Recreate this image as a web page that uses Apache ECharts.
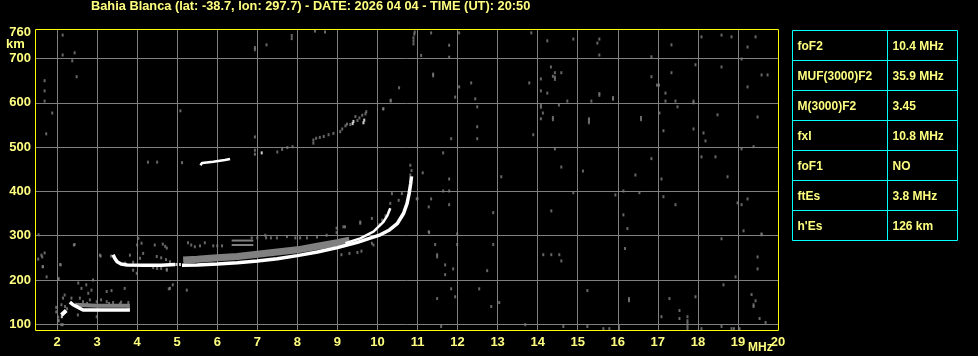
<!DOCTYPE html>
<html>
<head>
<meta charset="utf-8">
<script src="https://cdn.jsdelivr.net/npm/echarts@6/dist/echarts.min.js"></script>
<style>
html,body{margin:0;padding:0;background:#000;}
#chart{width:978px;height:356px;}
</style>
</head>
<body>
<div id="chart"></div>
<script>
// ---- Axis / labels ----
const titleText = 'Bahia Blanca (lat: -38.7, lon: 297.7) - DATE: 2026 04 04 - TIME (UT): 20:50';
const freqTicks = [2,3,4,5,6,7,8,9,10,11,12,13,14,15,16,17,18,19];
const freqLabels = [2,3,4,5,6,7,8,9,10,11,12,13,14,15,16,17,18,19,20];
const heightTicks = [100,200,300,400,500,600,700];
const heightLabels = [100,200,300,400,500,600,700,760];

// ---- Table ----
const paramNames = ['foF2','MUF(3000)F2','M(3000)F2','fxI','foF1','ftEs',"h'Es"];
const paramValues = ['10.4 MHz','35.9 MHz','3.45','10.8 MHz','NO','3.8 MHz','126 km'];

// ---- Echo traces (frequency MHz, virtual height km) ----
const esBlob = [[2.11,121],[2.17,126],[2.23,131]];
const esTrace = [[2.32,150],[2.40,144],[2.53,138],[2.65,132],[2.9,132],[3.3,132],[3.82,132]];
const fTraceLow = [[3.40,257],[3.44,249],[3.50,241],[3.60,236],[3.75,234],[4.20,233],[4.60,233],[4.95,235]];
const fTraceMain = [[5.12,233],[5.5,234],[6.0,236],[6.5,239],[7.0,243],[7.5,248],[8.0,255],[8.5,263],[9.0,273],[9.5,285],[9.8,294],[10.07,302],[10.3,313],[10.5,328],[10.65,350],[10.74,373],[10.79,395],[10.83,418],[10.85,434]];
const oTrace = [[9.2,283],[9.57,294],[9.9,309],[10.15,331],[10.25,346],[10.32,362]];
const hop2Trace = [[5.58,459],[5.62,464],[5.9,467],[6.19,471],[6.32,473]];
const whiteDots = [[4.98,235],[5.07,235],[7.11,487],[9.38,553],[9.40,558],[9.65,555],[9.67,561],[2.12,117]];

// gray spread echoes
const grayBandF = [[5.15,245],[5.5,247],[6.0,250],[6.5,253],[7.0,258],[7.5,263],[8.0,268],[8.5,276],[9.0,284],[9.3,290]];
const grayBandEs = [[2.45,144],[3.0,142],[3.82,142]];
const grayBars = [[[6.36,289],[6.9,289]],[[6.36,279],[6.9,279]]];
const grayDots = [
 // near Es
 [2.42,279],[3.07,256],[3.35,254],[1.61,256],[1.53,247],[1.65,230],[2.08,235],[1.74,207],[2.03,202],[2.53,193],[2.73,189],
 [2.86,177],[2.90,200],[2.78,170],[3.24,174],[3.36,176],[3.69,181],[2.61,181],[2.19,166],[2.15,159],[2.36,159],[2.11,144],
 [1.98,138],[1.98,128],[2.03,116],[2.03,108],[2.11,99],[2.57,159],[2.65,151],[2.82,155],[2.99,151],[3.24,151],[3.40,149],
 [3.57,146],[3.78,149],[3.78,138],[2.52,121],[2.99,117],[3.6,150],[3.1,155],[2.75,147],[2.2,140],[2.25,135],[3.3,147],
 // near F start
 [4.03,294],[4.00,279],[4.11,283],[4.64,281],[4.70,276],[4.74,272],[4.44,279],[3.82,256],[4.15,260],[4.07,249],
 [4.49,253],[4.6,250],[4.72,246],[4.82,241],[4.40,228],[4.5,226],[4.6,226],[4.74,224],[3.90,222],[3.99,215],[4.74,222],
 [4.82,181],[5.24,177],[3.09,254],[1.54,302],[1.63,252],[1.69,261],[1.64,230],[2.04,203],[2.09,234],[2.44,280],
 [2.14,99],[2.04,108],[4.89,189],[4.79,180],[3.7,238],[3.9,240],
 // dotted rows above F
 [5.27,284],[5.35,279],[5.44,275],[5.57,277],[5.69,284],[5.90,277],[6.0,277],[6.12,277],
 [6.86,295],[7.0,295],[7.22,295],[7.34,295],[7.49,295],[7.74,298],[7.95,295],[8.07,295],[8.24,295],[8.49,297],
 [8.73,301],[7.2,301],[8.98,317],[8.98,307],[9.57,328],[9.15,320],[9.9,279],[9.1,257],[9.3,260],[9.5,262],[9.6,265],
 // near cusp
 [9.98,315],[10.05,325],[10.12,335],[10.2,345],[9.86,339],[9.57,331],[10.32,373],[10.36,395],[10.53,380],[10.61,395],
 [10.82,459],[10.82,437],[10.85,447],[11.13,442],[11.0,384],[11.28,365],[11.28,309],[9.19,320],[9.86,283],
 // second hop
 [6.94,493],[6.94,484],[7.5,489],[7.62,495],[7.75,499],[7.88,501],
 [8.4,509],[8.4,516],[8.47,520],[8.56,522],[8.66,524],[8.78,528],[8.9,531],[9.07,535],[9.12,541],[9.2,548],[9.24,552],
 [9.32,551],[9.5,560],[9.55,566],[9.62,572],[9.7,575],[9.72,580],[9.45,569],
 [6.94,523],[4.27,466],[4.5,466],[5.12,465],[5.08,582],[10.15,587],[10.33,606],[10.98,383],
 // top-left
 [2.14,753],[2.14,708],[2.44,713],[2.38,695],[2.49,659],[1.69,650],[1.69,627],[1.69,604],[1.88,577],[1.73,530],
 [6.94,720],[6.94,725],[7.23,731],[7.86,745],[7.86,752],[8.44,762],[8.69,760],
 [10.9,733],[10.9,740],[10.9,747],[10.92,755],[10.93,760],[11.09,707],[10.54,634],[10.33,604],[10.14,586],
 // right half
 [11.34,758],[12.04,758],[11.79,730],[11.79,703],[13.84,758],[14.24,740],[14.89,744],[15.54,744],[15.49,735],[15.54,708],
 [16.84,704],[17.34,731],[18.09,749],[18.59,753],[18.84,749],[19.44,749],[19.24,726],[19.09,699],[11.39,665],[11.39,661],
 [12.04,636],[11.94,613],[12.34,645],[12.44,609],[12.49,591],[12.49,546],[12.49,519],[11.84,519],[13.79,645],[13.89,528],
 [14.33,681],[14.43,668],[14.59,668],[14.38,660],[14.43,653],[14.43,658],[14.08,654],[14.08,627],[14.24,622],[14.08,590],
 [14.08,595],[14.13,577],[14.08,564],[14.38,562],[14.38,567],[14.53,595],[14.74,604],[14.43,496],[14.59,455],[15.13,446],
 [15.34,604],[15.54,617],[15.54,621],[15.88,608],[15.88,612],[15.28,555],[15.28,560],[15.28,564],[16.58,562],[16.58,567],
 [16.84,659],[16.98,640],[17.03,640],[17.19,622],[17.19,604],[17.44,604],[17.49,591],[17.34,668],[17.94,686],[17.89,600],
 [17.89,604],[17.04,577],[17.14,537],[17.89,541],[18.14,532],[18.19,514],[18.49,573],[18.59,681],[19.24,636],[19.59,663],
 [19.74,663],[19.49,568],[11.64,487],[11.79,428],[11.64,401],[11.79,401],[11.34,383],[11.79,370],[13.09,433],[12.89,352],
 [14.34,356],[14.89,397],[15.94,392],[16.14,401],[16.14,347],[16.24,316],[16.44,437],[16.54,397],[16.84,474],[17.09,428],
 [17.14,388],[17.44,370],[18.09,478],[18.44,478],[18.74,433],[19.09,496],[19.39,501],[18.99,374],[19.09,370],[19.24,383],
 [19.14,311],[19.59,304],[11.99,304],
 [12.89,280],[12.74,221],[12.84,140],[13.04,149],[14.14,257],[14.34,257],[14.54,257],[14.59,243],[13.69,99],[14.64,95],
 [15.24,176],[15.24,95],[15.64,90],[15.79,90],[16.03,90],[16.03,95],[16.18,271],[16.28,153],[16.28,158],[17.09,117],
 [17.29,158],[17.54,131],[17.54,113],[17.74,117],[17.74,90],[17.74,96],[17.74,102],[17.74,108],[17.94,162],[18.09,90],
 [18.59,293],[18.64,189],[18.59,95],[18.84,90],[18.9,90],[19.04,90],[18.94,207],[19.59,302],[19.34,167],[19.44,153],
 [19.39,140],[19.39,144],[19.49,252],[19.49,225],[19.54,113],[19.69,104],
 [11.29,307],[11.44,280],[11.49,252],[11.49,257],[11.69,234],[11.69,212],[11.89,225],[11.84,180],[11.94,162],[11.49,158],
 [11.59,95],[12.54,180],[11.99,280]
];

const TXT = '#ffff80';
const FONT = 'Liberation Sans';

function traceLine(data, color, width, z) {
  return { type:'line', data:data, showSymbol:false, symbol:'none', lineStyle:{color:color, width:width, cap:'butt'},
           itemStyle:{color:color}, z:z, silent:true, animation:false, clip:true };
}

const series = [];
series.push(traceLine(grayBandF, '#808080', 7, 2));
series.push(traceLine(grayBandEs, '#808080', 4, 2));
grayBars.forEach(b => series.push(traceLine(b, '#808080', 2, 2)));
series.push({ type:'scatter', data:grayDots, symbol:'rect', symbolSize:[2,3], itemStyle:{color:'#808080'}, z:3, silent:true, animation:false });
series.push(traceLine(esBlob, '#ffffff', 4, 4));
series.push(traceLine(esTrace, '#ffffff', 3.5, 4));
series.push(traceLine(fTraceLow, '#ffffff', 3.5, 4));
series.push(traceLine(fTraceMain, '#ffffff', 3.5, 4));
series.push(traceLine(oTrace, '#ffffff', 2.5, 4));
series.push(traceLine(hop2Trace, '#ffffff', 2.5, 4));
series.push({ type:'scatter', data:whiteDots, symbol:'rect', symbolSize:[2,3], itemStyle:{color:'#ffffff'}, z:5, silent:true, animation:false });

// table graphics
const tbl = { left:792.5, top:30.5, right:957.5, rowH:30, split:887.5 };
const graphics = [];
graphics.push({ type:'rect', z:100, shape:{ x:35.5, y:29.5, width:743, height:301 }, style:{ fill:'none', stroke:'#ffff00', lineWidth:1 } });
graphics.push({ type:'text', left:91, top:0, style:{ text:titleText, fill:TXT, font:'bold 12.8px "'+FONT+'"' } });
graphics.push({ type:'text', left:6, top:38, style:{ text:'km', fill:TXT, font:'bold 13px "'+FONT+'"' } });
graphics.push({ type:'text', left:748, top:342, style:{ text:'MHz', fill:TXT, font:'bold 12px "'+FONT+'"' } });
const nRows = paramNames.length;
graphics.push({ type:'rect', shape:{ x:tbl.left, y:tbl.top, width:tbl.right-tbl.left, height:nRows*tbl.rowH }, style:{ fill:'none', stroke:'#00ffff', lineWidth:1 } });
for (let i = 1; i < nRows; i++) {
  graphics.push({ type:'line', shape:{ x1:tbl.left, y1:tbl.top+i*tbl.rowH, x2:tbl.right, y2:tbl.top+i*tbl.rowH }, style:{ stroke:'#00ffff', lineWidth:1 } });
}
graphics.push({ type:'line', shape:{ x1:tbl.split, y1:tbl.top, x2:tbl.split, y2:tbl.top+nRows*tbl.rowH }, style:{ stroke:'#00ffff', lineWidth:1 } });
for (let i = 0; i < nRows; i++) {
  const cy = tbl.top + i*tbl.rowH + tbl.rowH/2 + 1;
  graphics.push({ type:'text', x:797.5, y:cy, style:{ text:paramNames[i], fill:TXT, font:'bold 12px "'+FONT+'"', verticalAlign:'middle' } });
  graphics.push({ type:'text', x:892.5, y:cy, style:{ text:paramValues[i], fill:TXT, font:'bold 12px "'+FONT+'"', verticalAlign:'middle' } });
}

const chart = echarts.init(document.getElementById('chart'), null, { renderer:'canvas' });
chart.setOption({
  backgroundColor:'#000000',
  animation:false,
  grid:{ left:35, top:30, width:743, height:300, show:false, containLabel:false },
  xAxis:{
    type:'value', min:1.45, max:20.0,
    axisLine:{ show:false },
    axisTick:{ show:false, customValues:freqTicks },
    splitLine:{ show:true, lineStyle:{ color:'#808080', width:1 } },
    axisLabel:{ customValues:freqLabels, color:TXT, fontFamily:FONT, fontWeight:'bold', fontSize:13, margin:6,
                showMinLabel:true, showMaxLabel:true }
  },
  yAxis:{
    type:'value', min:87, max:764.5,
    axisLine:{ show:false },
    axisTick:{ show:false, customValues:heightTicks },
    splitLine:{ show:true, lineStyle:{ color:'#808080', width:1 } },
    axisLabel:{ customValues:heightLabels, color:TXT, fontFamily:FONT, fontWeight:'bold', fontSize:13, margin:4,
                showMinLabel:true, showMaxLabel:true }
  },
  series:series,
  graphic:graphics
});
</script>
</body>
</html>
